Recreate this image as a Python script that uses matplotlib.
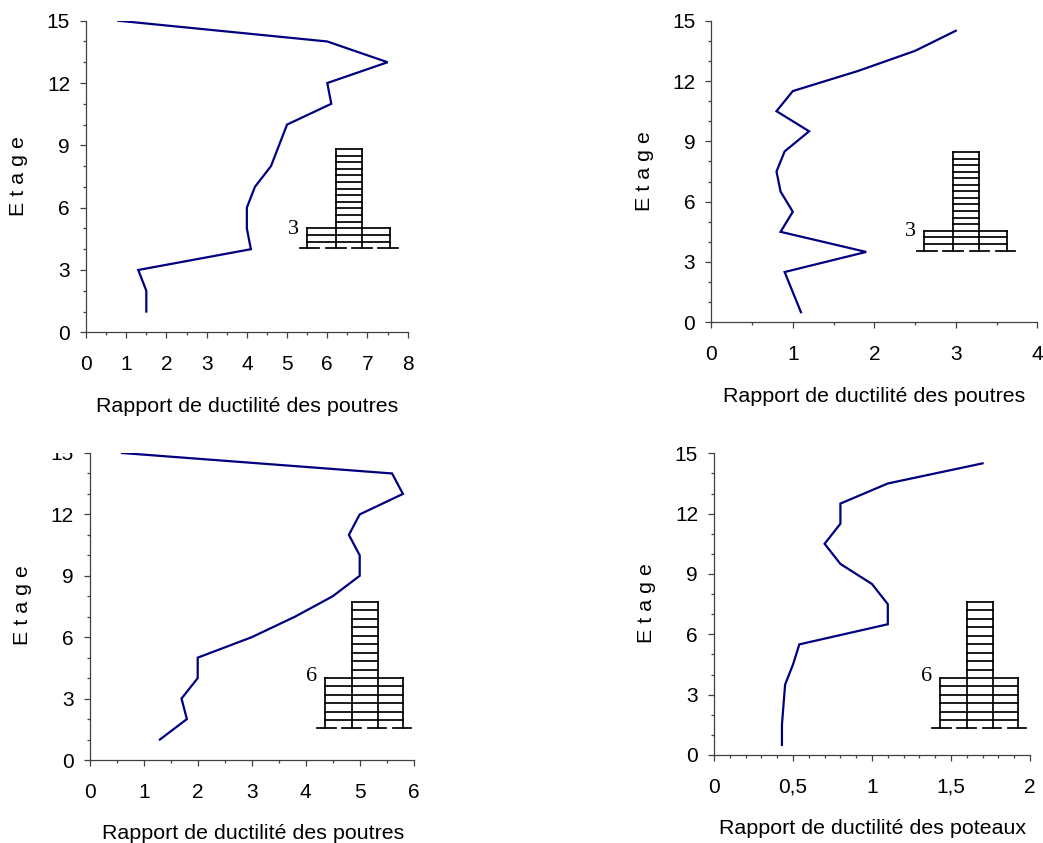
import matplotlib
matplotlib.use("Agg")
import matplotlib.pyplot as plt
from matplotlib.patches import Rectangle
from matplotlib.ticker import MultipleLocator

plt.rcParams["font.family"] = ["Liberation Sans", "DejaVu Sans"]

W, H = 1043, 843
NAVY = "#000080"
AXC = "#404040"

# floors and values
floors_whole = [15, 14, 13, 12, 11, 10, 9, 8, 7, 6, 5, 4, 3, 2, 1]
floors_half = [14.5, 13.5, 12.5, 11.5, 10.5, 9.5, 8.5, 7.5, 6.5, 5.5, 4.5, 3.5, 2.5, 1.5, 0.5]
ratio_a = [0.8, 6.0, 7.5, 6.0, 6.1, 5.0, 4.8, 4.6, 4.2, 4.0, 4.0, 4.1, 1.3, 1.5, 1.5]
ratio_b = [3.0, 2.5, 1.8, 1.0, 0.8, 1.2, 0.9, 0.8, 0.85, 1.0, 0.85, 1.9, 0.9, 1.0, 1.1]
ratio_c = [0.6, 5.6, 5.8, 5.0, 4.8, 5.0, 5.0, 4.5, 3.8, 3.0, 2.0, 2.0, 1.7, 1.8, 1.3]
ratio_d = [1.7, 1.1, 0.8, 0.8, 0.7, 0.8, 1.0, 1.1, 1.1, 0.54, 0.5, 0.45, 0.44, 0.43, 0.43]

ticks_a = [0, 1, 2, 3, 4, 5, 6, 7, 8]
ticks_b = [0, 1, 2, 3, 4]
ticks_c = [0, 1, 2, 3, 4, 5, 6]
ticks_d = [0, 0.5, 1, 1.5, 2]
labels_d = ["0", "0,5", "1", "1,5", "2"]
y_ticks = [0, 3, 6, 9, 12, 15]

label_poutres = "Rapport de ductilité des poutres"
label_poteaux = "Rapport de ductilité des poteaux"

fig = plt.figure(figsize=(W / 100, H / 100), dpi=100, facecolor="white")

# overlay in pixels for the labels and the little building sketches
over = fig.add_axes([0, 0, 1, 1], zorder=5)
over.set_xlim(0, W)
over.set_ylim(H, 0)
over.axis("off")
over.patch.set_alpha(0)


def panel(box, x, y, ticks, minor, xlab, xlab_pos, ylab_pos, tick_labels=None):
    left, top, right, bottom = box
    ax = fig.add_axes([left / W, 1 - bottom / H, (right - left) / W, (bottom - top) / H])
    ax.plot(x, y, color=NAVY, lw=1.6, solid_joinstyle="miter")
    ax.set_xlim(ticks[0], ticks[-1])
    ax.set_ylim(0, 15)
    ax.spines["top"].set_visible(False)
    ax.spines["right"].set_visible(False)
    for s in ["left", "bottom"]:
        ax.spines[s].set_color(AXC)
        ax.spines[s].set_linewidth(0.9)
    ax.set_xticks(ticks)
    if tick_labels:
        ax.set_xticklabels(tick_labels)
    ax.set_yticks(y_ticks)
    ax.xaxis.set_minor_locator(MultipleLocator(minor))
    ax.yaxis.set_minor_locator(MultipleLocator(1))
    ax.tick_params(which="major", length=4.5, width=0.9, color=AXC, labelsize=15, pad=7)
    ax.tick_params(axis="x", which="major", pad=12)
    ax.tick_params(which="minor", length=2.5, width=0.9, color=AXC)
    over.text(xlab_pos[0], xlab_pos[1] + 1, xlab, fontsize=15.4, ha="center", va="center")
    over.text(ylab_pos[0], ylab_pos[1], "E t a g e", fontsize=15.4, rotation=90,
              ha="center", va="center")
    return ax


def building(tl, tr, top, base, pl, pr, ptop, gl, gr, n_pod, lab, lab_x, lab_y):
    lw = 1.25
    c = "black"
    # columns
    for xc in [tl, tr]:
        over.plot([xc, xc], [top, base], color=c, lw=lw)
    for xc in [pl, pr]:
        over.plot([xc, xc], [ptop, base], color=c, lw=lw)
    # upper floors
    n_up = 15 - n_pod
    for i in range(n_up):
        yy = top + i * (ptop - top) / n_up
        over.plot([tl, tr], [yy, yy], color=c, lw=lw)
    # podium floors
    for i in range(n_pod):
        yy = ptop + i * (base - ptop) / n_pod
        over.plot([pl, pr], [yy, yy], color=c, lw=lw)
    # ground line, four equal dashes
    gap = 6.7
    dash = (gr - gl - 3 * gap) / 4
    for i in range(4):
        x0 = gl + i * (dash + gap)
        over.plot([x0, x0 + dash], [base, base], color=c, lw=lw)
    over.text(lab_x, lab_y + 1, lab, fontsize=16, family="Liberation Serif", ha="center", va="center")


panel((86, 20.7, 407.7, 332.3), ratio_a, floors_whole, ticks_a, 0.5,
      label_poutres, (246.7, 406), (18, 176))
panel((711.3, 20.7, 1037.3, 322.3), ratio_b, floors_half, ticks_b, 0.5,
      label_poutres, (873.8, 396), (645, 171))
panel((89.7, 453, 413.7, 760), ratio_c, floors_whole, ticks_c, 0.5,
      label_poutres, (252.7, 832.7), (22.7, 605.5))
panel((714, 453.3, 1030, 755), ratio_d, floors_half, ticks_d, 0.1,
      label_poteaux, (872.8, 827.3), (646.7, 603), labels_d)

# the top label of the third panel is cut off in the original
over.add_patch(Rectangle((40, 435), 47, 18, facecolor="white", edgecolor="none", zorder=10))

building(336, 362.3, 149, 248.3, 307, 390, 228.3, 300, 397.7, 3, "3", 293, 228)
building(953, 979.3, 152, 251, 924.3, 1007, 230.7, 917.3, 1015, 3, "3", 910, 230)
building(352, 378.3, 602, 728.3, 325, 403.3, 678, 317.3, 411, 6, "6", 311.7, 675.7)
building(966.7, 993, 602, 728.3, 940, 1017.7, 678, 932.3, 1026, 6, "6", 926.7, 675.7)

fig.savefig("out.png", dpi=100, facecolor="white")
